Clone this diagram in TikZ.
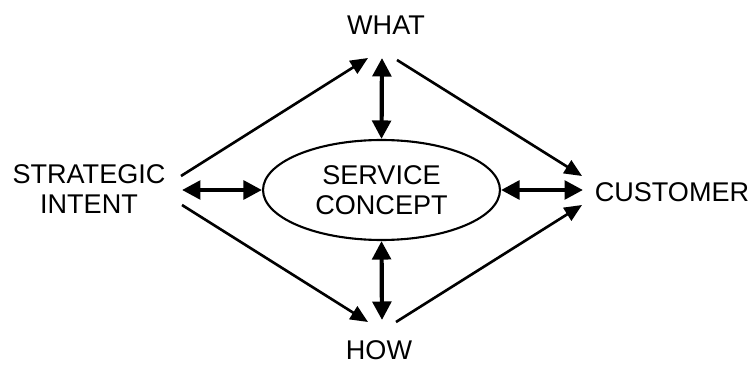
\documentclass[tikz,border=0pt]{standalone}
\usepackage{fontspec}
\setmainfont{Liberation Sans}
\usetikzlibrary{positioning}
\usetikzlibrary{shapes.geometric, arrows.meta}

\tikzset{
    label/.style={font=\fontsize{15.4}{17.3}\selectfont, align=center, inner sep=0pt},
    concept/.style={ellipse, draw, line width=1.2pt, minimum width=4.74cm, minimum height=2cm, inner sep=0pt},
    flow/.style={line width=1.5pt, -{Triangle[length=3.5mm, width=3mm]}},
    link/.style={line width=2.4pt, {Triangle[length=3.7mm, width=3.7mm]}-{Triangle[length=3.7mm, width=3.7mm]}}
}

\begin{document}
\begin{tikzpicture}[x=0.02cm, y=-0.02cm]
    % frame of the picture
    \useasboundingbox (0,0) rectangle (755,365);
    % nodes
    \node[label] (what) at (386,25) {WHAT};
    \node[label] (how) at (379,350) {HOW};
    \node[label] (strat) at (89,189) {STRATEGIC\\INTENT};
    \node[label] (cust) at (672,192) {CUSTOMER};
    \node[concept, label] (svc) at (381.5,190) {SERVICE\\CONCEPT};
    % outer arrows
    \draw[flow] ([shift={(92,-13)}]strat.center) -- ([shift={(-18,33)}]what.center);
    \draw[flow] ([shift={(11,35)}]what.center) -- ([shift={(-90,-16)}]cust.center);
    \draw[flow] ([shift={(93,16)}]strat.center) -- ([shift={(-11,-28)}]how.center);
    \draw[flow] ([shift={(17,-28)}]how.center) -- ([shift={(-90,13)}]cust.center);
    % arrows to the concept
    \draw[link] ([shift={(-4,33)}]what.center) -- (svc.north);
    \draw[link] (svc.south) -- ([shift={(3,-30)}]how.center);
    \draw[link] ([shift={(93,1)}]strat.center) -- (svc.west);
    \draw[link] (svc.east) -- ([shift={(-89,-2)}]cust.center);
\end{tikzpicture}
\end{document}
